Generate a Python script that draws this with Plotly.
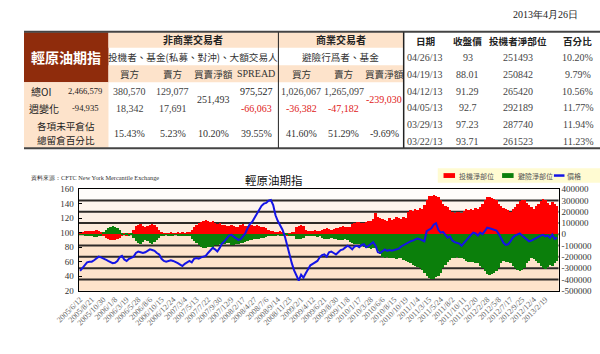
import plotly.graph_objects as go

W, H = 600, 354

# ---------------- data ----------------
tick_labels = ["2005/6/12", "2005/8/21", "2005/10/30", "2006/1/8", "2006/3/19", "2006/5/28",
               "2006/8/6", "2006/10/15", "2006/12/24", "2007/3/4", "2007/5/13", "2007/7/22",
               "2007/9/30", "2007/12/9", "2008/2/17", "2008/4/27", "2008/7/6", "2008/9/14",
               "2008/11/23", "2009/2/1", "2009/4/12", "2009/6/21", "2009/8/30", "2009/11/8",
               "2010/1/17", "2010/3/28", "2010/6/6", "2010/8/15", "2010/10/19", "2011/1/4",
               "2011/3/15", "2011/5/24", "2011/8/2", "2011/10/11", "2011/12/20", "2012/2/28",
               "2012/5/8", "2012/7/17", "2012/9/25", "2012/12/4", "2013/2/19"]
weeks_per_label = 10
weeks_per_sample = 2

# speculator net position (thousand contracts), every 2 weeks
spec_net_k = [
    10, 15, 25, 30, 30, 30, 25, 35, 30, 20,
    -20, -35, -45, -50, -55, -50, -40, -30, -10, 5,
    -15, 10, 5, 40, 70, 85, 90, 75, 60, 70,
    85, 90, 80, 60, 40, 15, 10, 5, 10, 15,
    5, 10, 15, 10, 20, 10, 15, 20, 40, 60,
    80, 95, 110, 120, 125, 115, 110, 120, 100, 90,
    95, 80, 85, 70, 70, 80, 75, 60, 65, 80,
    90, 70, 75, 85, 80, 75, 80, 70, 65, 60,
    50, 40, 30, 25, 20, 15, 25, 20, 10, -15,
    10, 20, 15, 60, 75, 80, 70, 35, 30, 25,
    30, 35, 30, 25, 40, 45, 50, 45, 40, 45,
    50, 55, 60, 70, 65, 60, 65, 90, 100, 110,
    105, 100, 95, 110, 120, 115, 130, 190, 150, 140,
    130, 125, 120, 140, 125, 130, 150, 140, 135, 150,
    140, 200, 210, 205, 220, 215, 230, 225, 260, 300,
    340, 335, 345, 335, 330, 300, 270, 250, 240, 210,
    200, 190, 195, 200, 190, 205, 220, 215, 225, 210,
    230, 220, 240, 270, 300, 330, 325, 320, 310, 300,
    270, 250, 230, 220, 210, 200, 220, 240, 270, 290,
    300, 300, 280, 260, 240, 225, 245, 270, 290, 310,
    300, 280, 262, 288, 265, 251,
]
# hedger net position (thousand contracts)
hedge_net_k = [
    -2, -5, -15, -18, -20, -15, -22, -25, -20, -10,
    20, 40, 55, 65, 68, 60, 50, 35, 10, -5,
    10, -10, 5, -30, -60, -75, -83, -70, -55, -65,
    -80, -83, -70, -50, -30, -10, -15, -5, -10, -15,
    -10, -5, -10, -15, -10, -20, -15, -20, -40, -60,
    -80, -100, -115, -120, -125, -115, -110, -120, -100, -95,
    -90, -85, -90, -80, -80, -95, -97, -90, -85, -80,
    -75, -70, -60, -55, -50, -40, -45, -40, -35, -30,
    -25, -20, -15, -10, -10, -5, -10, -10, 5, 10,
    -10, -15, -10, -40, -45, -40, -35, -20, -15, -20,
    -15, -20, -25, -20, -35, -40, -45, -40, -35, -40,
    -45, -50, -55, -50, -45, -55, -70, -80, -85, -90,
    -85, -95, -110, -120, -125, -130, -125, -120, -150, -180,
    -200, -210, -205, -210, -210, -215, -220, -210, -215, -230,
    -240, -250, -260, -270, -280, -290, -300, -320, -340, -370,
    -390, -400, -395, -380, -375, -340, -300, -270, -250, -230,
    -215, -210, -205, -210, -215, -220, -240, -245, -250, -245,
    -255, -260, -280, -300, -330, -355, -360, -350, -340, -330,
    -300, -260, -240, -245, -250, -260, -280, -300, -320, -330,
    -320, -300, -260, -240, -215, -220, -240, -260, -280, -300,
    -305, -290, -270, -280, -260, -239,
]
# settlement price
price = [
    47.4, 51, 56, 59, 60, 60, 62, 65, 67, 66,
    65, 63, 61, 59, 58, 58.5, 61, 66, 68, 63,
    61, 64, 66, 67, 72, 74, 73, 72, 73, 75,
    77, 76, 75, 72, 70, 64, 61, 60, 61, 62,
    61, 60, 58, 56, 54, 57, 59, 61, 59, 64,
    65, 64, 66, 67, 68, 72, 75, 79, 77, 74,
    79, 85, 88, 92, 96, 97, 95, 93, 90, 91,
    95, 99, 106, 112, 115, 121, 127, 132, 137, 140,
    141, 144, 145, 138, 124, 116, 110, 104, 95, 82,
    70, 58, 48, 41, 34, 42, 38, 44, 50, 55,
    57, 59, 61, 66, 69, 70, 67, 73, 74, 72,
    70, 73, 76, 77, 80, 82, 80, 77, 81, 82,
    80, 83, 84, 80, 82, 85, 87, 82, 73, 72,
    75, 77, 75, 76, 75, 76, 77, 78, 81, 83,
    84, 86, 88, 89, 90, 92, 91, 89, 88, 102,
    104, 106, 111, 113, 104, 100, 101, 97, 93, 95,
    89, 87, 86, 85, 82, 86, 89, 94, 97, 100,
    99, 96, 100, 98, 103, 107, 106, 105, 104, 103,
    98, 92, 86, 83, 84, 88, 93, 96, 98, 99,
    96, 93, 90, 88, 89, 91, 92, 94, 96, 97,
    95, 96, 93, 97.23, 91.29, 93,
]

left_ticks = [20, 40, 60, 80, 100, 120, 140, 160]
right_ticks = [-500000, -400000, -300000, -200000, -100000, 0, 100000, 200000, 300000, 400000]
right_range = [-500000, 400000]
x_range = [-1.2, 411.5]

# table texts
report_date = "2013年4月26日"
table_title = "輕原油期指"
noncomm_header = "非商業交易者"
noncomm_sub = "投機者、基金(私募、對沖)、大額交易人"
comm_header = "商業交易者"
comm_sub = "避險行爲者、基金"
noncomm_cols = ["買方", "賣方", "買賣淨額", "SPREAD"]
comm_cols = ["買方", "賣方", "買賣淨額"]
row_labels = ["總OI", "週變化"]
row_totals = ["2,466,579", "-94,935"]
pct_label = ["各項未平倉佔", "總留倉百分比"]
noncomm_oi = ["380,570", "129,077", "251,493", "975,527"]
noncomm_chg = ["18,342", "17,691", None, "-66,063"]
noncomm_pct = ["15.43%", "5.23%", "10.20%", "39.55%"]
comm_oi = ["1,026,067", "1,265,097", "-239,030"]
comm_chg = ["-36,382", "-47,182", None]
comm_pct = ["41.60%", "51.29%", "-9.69%"]
rt_header = ["日期", "收盤價", "投機者淨部位", "百分比"]
rt_dates = ["04/26/13", "04/19/13", "04/12/13", "04/05/13", "03/29/13", "03/22/13"]
rt_close = ["93", "88.01", "91.29", "92.7", "97.23", "93.71"]
rt_net = ["251493", "250842", "265420", "292189", "287740", "261523"]
rt_pct = ["10.20%", "9.79%", "10.56%", "11.77%", "11.94%", "11.23%"]

chart_title = "輕原油期指"
source_text = "資料來源：CFTC New York Mercantile Exchange"
legend_names = ["投機淨部位", "避險淨部位", "價格"]

# ---------------- styling ----------------
RED = "#ff0000"
GREEN = "#0b7f0b"
BLUE = "#1414e6"
BROWN = "#8f2c0c"
PEACH = "#fde3cb"
TXT_RED = "#e02020"
GRID = "#2e2a28"
SERIF = "Liberation Serif, Times New Roman, serif"
CJK = "Noto Sans CJK TC, Noto Sans CJK SC, sans-serif"

PLOT_X0, PLOT_X1 = 57, 557
PLOT_Y0, PLOT_Y1 = 189.5, 294


def px(x):
    return x / W


def py(y):
    return 1 - y / H


x_weeks = [i * weeks_per_sample for i in range(len(price))]
spec = [v * 1000 for v in spec_net_k]
hedge = [v * 1000 for v in hedge_net_k]

# horizontal grid on the bar scale, drawn on the bottom-most overlay so bars cover it
grid_x, grid_y = [], []
for v in right_ticks[1:-1]:
    grid_x += [x_range[0], x_range[1], None]
    grid_y += [v, v, None]

fig = go.Figure()
fig.add_trace(go.Scatter(x=grid_x, y=grid_y, mode="lines", line=dict(color=GRID, width=2),
                         hoverinfo="skip", showlegend=False, yaxis="y"))
fig.add_trace(go.Bar(x=x_weeks, y=spec, marker=dict(color=RED, line=dict(width=0)),
                     width=1.6, name=legend_names[0], showlegend=False, yaxis="y2"))
fig.add_trace(go.Bar(x=x_weeks, y=hedge, marker=dict(color=GREEN, line=dict(width=0)),
                     width=1.6, name=legend_names[1], showlegend=False, yaxis="y2"))
fig.add_trace(go.Scatter(x=x_weeks, y=price, mode="lines", line=dict(color=BLUE, width=2),
                         name=legend_names[2], showlegend=False, yaxis="y3"))

shapes = []
ann = []


def rect(x0, y0, x1, y1, fill, layer="below", line_w=0, line_c=None):
    shapes.append(dict(type="rect", xref="paper", yref="paper", x0=px(x0), x1=px(x1),
                       y0=py(y1), y1=py(y0), fillcolor=fill, layer=layer,
                       line=dict(width=line_w, color=line_c or fill)))


def hline(x0, x1, y, color="#333", w=1, layer="above"):
    shapes.append(dict(type="line", xref="paper", yref="paper", x0=px(x0), x1=px(x1),
                       y0=py(y), y1=py(y), line=dict(color=color, width=w), layer=layer))


def vline(x, y0, y1, color="#333", w=1):
    shapes.append(dict(type="line", xref="paper", yref="paper", x0=px(x), x1=px(x),
                       y0=py(y0), y1=py(y1), line=dict(color=color, width=w)))


def txt(x, y, s, size=10, color="#222", family=SERIF, xanchor="center"):
    ann.append(dict(x=px(x), y=py(y), xref="paper", yref="paper", text=s, showarrow=False,
                    xanchor=xanchor, yanchor="middle",
                    font=dict(size=size, color=color, family=family)))


def val_to_pix(v):
    return PLOT_Y0 + (right_range[1] - v) / (right_range[1] - right_range[0]) * (PLOT_Y1 - PLOT_Y0)


# ---- plot background bands ----
bands = [(400000, 300000, "#fffcfa"), (300000, 200000, "#fef5ee"), (200000, 100000, "#fdefe5"),
         (100000, 0, "#fdeadb"), (0, -500000, PEACH)]
for top, bot, col in bands:
    rect(PLOT_X0, val_to_pix(top), PLOT_X1, val_to_pix(bot), col)

# ---- table ----
rect(0, 28, 88, 79.5, BROWN)
rect(0, 79.5, 88, 147, PEACH)
rect(88, 28, 395, 44, PEACH)
rect(88, 62, 395, 79.5, PEACH)
hline(0, 600, 27.5, "#444", 2)
hline(0, 600, 147.5, "#444", 2)
vline(265, 28, 147, "#222", 1)
vline(395.5, 28, 147, "#222", 1.5)

txt(44, 53, "<b>" + table_title + "</b>", 14, "white", CJK)
txt(176, 36, "<b>" + noncomm_header + "</b>", 10, "#222", CJK)
txt(176, 53, noncomm_sub, 9.6, "#333", CJK)
txt(330, 36, "<b>" + comm_header + "</b>", 10, "#222", CJK)
txt(330, 53, comm_sub, 9.6, "#333", CJK)

nc_x = [110, 155, 197, 242]
c_x = [289, 333, 375]
for xx, s in zip(nc_x, noncomm_cols):
    txt(xx, 71, s, 9.6 if s != "SPREAD" else 10, "#333", CJK if s != "SPREAD" else SERIF)
for xx, s in zip(c_x, comm_cols):
    txt(xx, 71, s, 9.6, "#333", CJK)

txt(18, 89, row_labels[0], 10, "#222", CJK)
txt(21, 106, row_labels[1], 10, "#222", CJK)
txt(64, 89, row_totals[0], 8.6, "#222")
txt(64, 106, row_totals[1], 8.6, "#222")
txt(44, 125, pct_label[0], 9.6, "#222", CJK)
txt(44, 139, pct_label[1], 9.6, "#222", CJK)

for i, xx in enumerate(nc_x):
    if i == 2:
        txt(xx, 97.5, noncomm_oi[i], 10, "#333")
    else:
        txt(xx, 89, noncomm_oi[i], 10, "#222" if i == 3 else "#444")
        s = noncomm_chg[i]
        txt(xx, 106, s, 10, TXT_RED if s.startswith("-") else "#444")
    txt(xx, 132, noncomm_pct[i], 10, "#333")
for i, xx in enumerate(c_x):
    if i == 2:
        txt(xx, 97.5, comm_oi[i], 10, TXT_RED)
    else:
        txt(xx, 89, comm_oi[i], 10, "#444")
        s = comm_chg[i]
        txt(xx, 106, s, 10, TXT_RED if s.startswith("-") else "#444")
    txt(xx, 132, comm_pct[i], 10, "#333")

rt_x = [418, 462, 515, 577]
for xx, s in zip(rt_x, rt_header):
    txt(xx, 37, "<b>" + s + "</b>", 9.6, "#222", CJK)
for r in range(len(rt_dates)):
    yy = 54 + r * 17.3
    txt(rt_x[0], yy, rt_dates[r], 10, "#444")
    txt(rt_x[1], yy, rt_close[r], 10, "#444")
    txt(rt_x[2], yy, rt_net[r], 10, "#444")
    txt(rt_x[3], yy, rt_pct[r], 10, "#444")

txt(543, 10, report_date, 10, "#222", SERIF)

# ---- chart decorations ----
txt(5, 178, source_text, 6.3, "#333", SERIF, "left")
txt(260, 180, chart_title, 11.5, "#111", CJK)

# legend (manual)
rect(431, 168, 600, 183, "#fffbd2")
rect(437, 173, 449, 178, RED, "above")
txt(451, 176, legend_names[0], 7, "#555", CJK, "left")
rect(498, 173, 510, 178, GREEN, "above")
txt(512, 176, legend_names[1], 7, "#555", CJK, "left")
shapes.append(dict(type="line", xref="paper", yref="paper", x0=px(552), x1=px(563),
                   y0=py(175.5), y1=py(175.5), line=dict(color=BLUE, width=2.5)))
txt(564, 176, legend_names[2], 7, "#555", CJK, "left")

y_domain = [py(PLOT_Y1), py(PLOT_Y0)]
fig.update_layout(
    width=W, height=H, margin=dict(l=0, r=0, t=0, b=0),
    paper_bgcolor="white", plot_bgcolor="rgba(0,0,0,0)",
    barmode="overlay", bargap=0,
    shapes=shapes, annotations=ann,
    xaxis=dict(domain=[px(PLOT_X0), px(PLOT_X1)], range=x_range,
               tickvals=[i * weeks_per_label for i in range(len(tick_labels))],
               ticktext=tick_labels, tickangle=-45, ticks="",
               tickfont=dict(family=SERIF, size=8, color="#666"),
               showgrid=False, zeroline=False, showline=True, linecolor="black",
               linewidth=1, mirror=True, anchor="y"),
    yaxis=dict(domain=y_domain, range=right_range, showticklabels=False, ticks="",
               showgrid=False, zeroline=False, showline=False),
    yaxis2=dict(overlaying="y", range=right_range, side="right",
                tickvals=right_ticks, ticktext=[str(v) for v in right_ticks],
                tickfont=dict(family=SERIF, size=9, color="#333"), ticks="",
                showgrid=False, zeroline=False,
                showline=True, linecolor="black", linewidth=1, mirror=True),
    yaxis3=dict(overlaying="y", side="left", range=[20, 160], tickvals=left_ticks,
                ticktext=[str(v) for v in left_ticks],
                tickfont=dict(family=SERIF, size=9, color="#333"),
                ticks="inside", ticklen=3, tickcolor="black", showgrid=False,
                zeroline=False, showline=False, ticklabelstandoff=4),
)

fig.write_html("out.html")
